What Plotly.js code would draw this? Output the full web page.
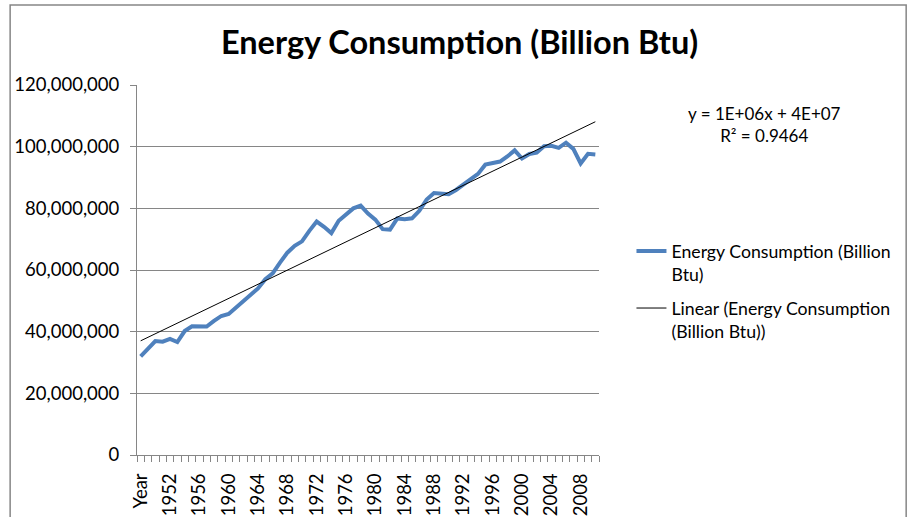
<!DOCTYPE html>
<html>
<head>
<meta charset="utf-8">
<script src="https://cdn.plot.ly/plotly-3.0.1.min.js"></script>
<style>html,body{margin:0;padding:0;background:#fff}#chart{width:912px;height:517px}</style>
</head>
<body>
<div id="chart"></div>
<script>
// Category labels as drawn on the x axis (first category is the header text "Year")
const categories = ["Year"];
for (let y = 1949; y <= 2010; y++) categories.push(String(y));

// Energy consumption (Billion Btu), one value per category
const consumption = [
  31980000, 34620000, 36970000, 36750000, 37660000, 36640000, 40210000, 41750000, 41790000, 41650000,
  43470000, 45090000, 45740000, 47830000, 49640000, 51820000, 54020000, 57020000, 58910000, 62420000,
  65620000, 67840000, 69290000, 72700000, 75710000, 74000000, 71970000, 75980000, 77960000, 79990000,
  80900000, 78290000, 76340000, 73250000, 73100000, 76740000, 76470000, 76760000, 79200000, 82850000,
  84960000, 84670000, 84610000, 85960000, 87600000, 89260000, 91170000, 94170000, 94760000, 95180000,
  96820000, 98810000, 96170000, 97640000, 98040000, 100160000, 100280000, 99620000, 101300000, 99290000,
  94570000, 97670000, 97460000
];

const seriesName = "Energy Consumption (Billion<br>Btu)";
const trendName = "Linear (Energy Consumption<br>(Billion Btu))";
const equationText = "y = 1E+06x + 4E+07<br>R² = 0.9464";
const titleText = "Energy Consumption (Billion Btu)";

const xIdx = categories.map((_, i) => i);
const tickIdx = xIdx.filter(i => i % 4 === 0);
const tickLabels = tickIdx.map(i => categories[i]);

// least squares linear trendline (Excel uses x = 1..n)
const n = consumption.length;
let sx = 0, sy = 0, sxx = 0, sxy = 0;
for (let i = 0; i < n; i++) { const x = i + 1; sx += x; sy += consumption[i]; sxx += x * x; sxy += x * consumption[i]; }
const slope = (n * sxy - sx * sy) / (n * sxx - sx * sx);
const intercept = (sy - slope * sx) / n;
const trendX = [0, n - 1];
const trendY = trendX.map(i => intercept + slope * (i + 1));

const FONT = "Lato, 'Open Sans', sans-serif";
const GRID = "#868686";

const L = 137, R = 599.5, T = 85, B = 455, W = 912, H = 517;
const px2x = p => (p - L) / (R - L);
const px2y = p => (B - p) / (B - T);

const traces = [
  { x: xIdx, y: consumption, type: "scatter", mode: "lines", name: seriesName, legendgroup: "a",
    line: { color: "#4F81BD", width: 4 } },
  { x: trendX, y: trendY, type: "scatter", mode: "lines", name: trendName, legendgroup: "b",
    line: { color: "#000000", width: 1 } }
];

const layout = {
  width: W, height: H,
  margin: { l: L, r: W - R, t: T, b: H - B },
  paper_bgcolor: "#fff", plot_bgcolor: "#fff",
  font: { family: FONT, size: 18.5, color: "#000" },
  title: { text: "<b>" + titleText + "</b>", font: { family: FONT, size: 32.5, color: "#000" },
           x: 459.5 / W, xref: "container", xanchor: "center", y: 1 - 43 / H, yref: "container", yanchor: "middle" },
  xaxis: {
    range: [-0.5, n - 0.5], showgrid: false, zeroline: false,
    showline: true, linecolor: GRID, linewidth: 1,
    tickmode: "array", tickvals: tickIdx, ticktext: tickLabels, tickangle: -90,
    ticks: "", ticklabelstandoff: 10,
    tickfont: { family: FONT, size: 18.5, color: "#000" },
    minor: { tickmode: "linear", tick0: -0.5, dtick: 1, ticks: "outside", ticklen: 6, tickcolor: GRID, showgrid: false }
  },
  yaxis: {
    range: [0, 120000000], tickmode: "linear", tick0: 0, dtick: 20000000, tickformat: ",d",
    showgrid: true, gridcolor: GRID, gridwidth: 1, zeroline: false,
    showline: true, linecolor: GRID, linewidth: 1,
    ticks: "outside", ticklen: 6, tickcolor: GRID, ticklabelstandoff: 7,
    tickfont: { family: FONT, size: 18.5, color: "#000" }
  },
  legend: {
    x: px2x(632), y: px2y(233), xanchor: "left", yanchor: "top",
    valign: "top", font: { family: FONT, size: 17.7, color: "#000" },
    bgcolor: "rgba(0,0,0,0)", tracegroupgap: 8
  },
  annotations: [{
    text: equationText, xref: "paper", yref: "paper",
    x: px2x(765), y: px2y(124), xanchor: "center", yanchor: "middle",
    showarrow: false, align: "center", font: { family: FONT, size: 17, color: "#000" }
  }],
  shapes: [{
    type: "rect", xref: "paper", yref: "paper",
    x0: px2x(10), x1: px2x(907), y0: px2y(530), y1: px2y(5),
    line: { color: "#868686", width: 1.5 }, fillcolor: "rgba(0,0,0,0)", layer: "below"
  }],
  showlegend: true
};

Plotly.newPlot("chart", traces, layout, { displayModeBar: false, staticPlot: true });
</script>
</body>
</html>
